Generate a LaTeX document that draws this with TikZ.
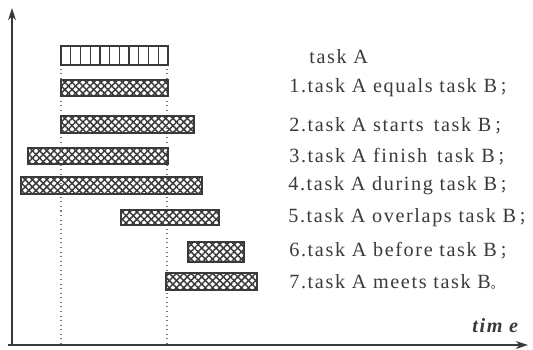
\documentclass[tikz,border=0pt]{standalone}
\usepackage{fontspec}
\setmainfont{Liberation Serif}
\newfontfamily\lblfont[LetterSpace=8]{Liberation Serif}
\newfontfamily\cjk{Noto Sans CJK SC}
\usetikzlibrary{patterns.meta,arrows.meta}
\definecolor{ink}{HTML}{3A3A3A}
\tikzset{
  bar/.style={draw=ink, line width=0.7pt,
    pattern={Lines[angle=45,distance=2.9pt,line width=0.85pt]}, pattern color=ink,
    postaction={pattern={Lines[angle=-45,distance=2.9pt,line width=0.85pt]}, pattern color=ink}},
  vbar/.style={draw=ink, line width=0.7pt},
  guide/.style={ink!70, line width=0.6pt, dotted},
  axis/.style={ink, line width=0.7pt, -{Stealth[length=7pt,width=4.5pt]}},
  lbl/.style={anchor=west, inner sep=0pt, text=ink, font=\lblfont\fontsize{11.5}{12}\selectfont},
}
\newcommand{\fsemi}{\hspace{1.5pt}\makebox[3pt][l]{\cjk\fontsize{9}{10}\selectfont ；}}
\begin{document}
\begin{tikzpicture}[x=0.02cm,y=-0.02cm]
\useasboundingbox (0,0) rectangle (533,349);
% axes
\coordinate (o) at (12,345);
\coordinate (ytop) at (12,8);
\coordinate (xl) at (8,345);
\coordinate (xr) at (528,345);
\draw[axis] (o) -- (ytop);
\draw[axis] (xl) -- (xr);
% guides
\coordinate (g1a) at (61,46); \coordinate (g1b) at (61,347);
\coordinate (g2a) at (167,46); \coordinate (g2b) at (167,347);
\draw[guide] (g1a) -- (g1b);
\draw[guide] (g2a) -- (g2b);
% task A bar with vertical stripes
\draw[vbar, fill=white] (61,46) rectangle (168,65);
\foreach \i in {1,...,10} {\draw[vbar] ({61+\i*9.73},46) -- ({61+\i*9.73},65);}
% task B bars
\draw[bar] (61,80) rectangle (168,96);
\draw[bar] (61,116) rectangle (194,133);
\draw[bar] (28,148) rectangle (168,164);
\draw[bar] (21,177) rectangle (202,194);
\draw[bar] (121,210) rectangle (219,225);
\draw[bar] (188,242) rectangle (244,262);
\draw[bar] (166,273) rectangle (257,290);
% labels
\node[lbl] (t0) at (309,57) {task A};
\node[lbl] (t1) at (289,88) {1.task A equals task B\fsemi};
\node[lbl] (t2) at (289,126) {2.task A starts\, task B\fsemi};
\node[lbl] (t3) at (289,157) {3.task A finish\, task B\fsemi};
\node[lbl] (t4) at (288,186) {4.task A during task B\fsemi};
\node[lbl] (t5) at (288,218) {5.task A overlaps task B\fsemi};
\node[lbl] (t6) at (289,251) {6.task A before task B\fsemi};
\node[lbl] (t7) at (289,282) {7.task A meets task B{\cjk\fontsize{7}{8}\selectfont 。}};
\node[lbl, font=\lblfont\fontsize{11.5}{12}\selectfont\bfseries\itshape] (tm) at (472,326) {tim e};
\end{tikzpicture}
\end{document}
